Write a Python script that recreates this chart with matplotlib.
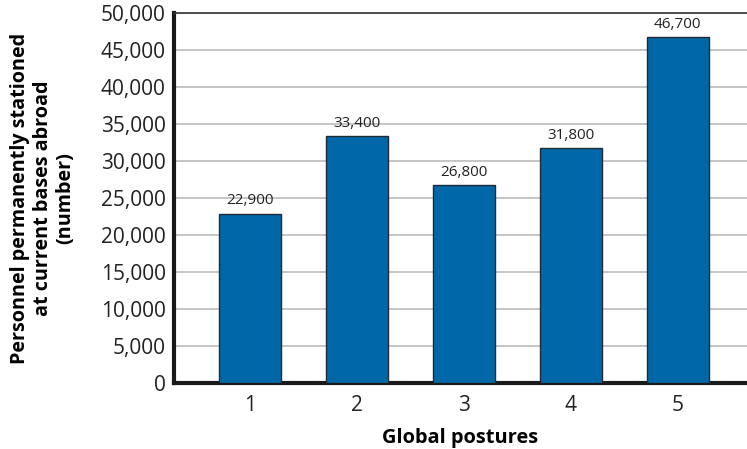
import matplotlib.pyplot as plt
from matplotlib.ticker import FuncFormatter

postures = ['1', '2', '3', '4', '5']
personnel = [22900, 33400, 26800, 31800, 46700]
value_labels = ['22,900', '33,400', '26,800', '31,800', '46,700']

plt.rcParams['font.family'] = ['Open Sans', 'DejaVu Sans']

fig = plt.figure(figsize=(7.47, 4.49), dpi=100)
ax = fig.add_axes([0.233, 0.147, 0.767, 0.824])

x = range(1, len(postures) + 1)
bars = ax.bar(x, personnel, width=0.58, color='#0068a8', edgecolor='#1f2a36',
              linewidth=1.0, zorder=3)

for xi, v, lab in zip(x, personnel, value_labels):
    ax.text(xi, v + 700, lab, ha='center', va='bottom', fontsize=11, color='#222222')

ax.set_xlim(0.29, 5.65)
ax.set_ylim(0, 50000)
ax.set_yticks(range(0, 50001, 5000))
ax.yaxis.set_major_formatter(FuncFormatter(lambda v, p: f'{int(v):,}'))
ax.set_xticks(list(x))
ax.set_xticklabels(postures)
ax.tick_params(axis='both', length=0, labelsize=15, colors='#222222')
ax.tick_params(axis='x', pad=9)
ax.tick_params(axis='y', pad=6)

ax.yaxis.grid(True, color='#bbbbbb', linewidth=1.2, zorder=0)
ax.set_axisbelow(True)

ax.spines['left'].set_linewidth(3)
ax.spines['left'].set_color('#1a1a1a')
ax.spines['bottom'].set_linewidth(3)
ax.spines['bottom'].set_color('#1a1a1a')
ax.spines['top'].set_linewidth(1.2)
ax.spines['top'].set_color('#333333')
ax.spines['right'].set_visible(False)

ax.set_xlabel('Global postures', fontsize=14.4, fontweight='bold', labelpad=8)
ax.set_ylabel('Personnel permanently stationed\nat current bases abroad\n(number)',
              fontsize=14.2, fontweight='bold', labelpad=18, linespacing=1.2)

fig.savefig('out.png', dpi=100)
